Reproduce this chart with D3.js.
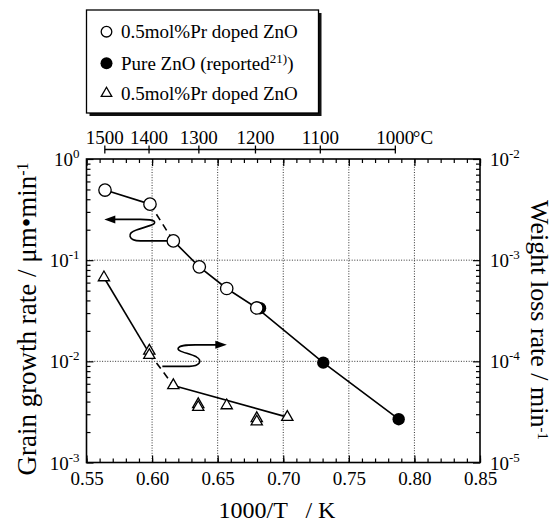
<!DOCTYPE html>
<html><head><meta charset="utf-8">
<script src="https://cdn.jsdelivr.net/npm/d3@7"></script>
<style>
body{margin:0;background:#fff}
svg{display:block}
text{font-family:"Liberation Serif","Times New Roman",serif;fill:#000}
</style>
</head><body>
<svg id="c" width="556" height="524"></svg>
<script>
// ---- data ----
const openX = [0.5641, 0.5984, 0.6162, 0.6360, 0.6569, 0.6798];
const openY = [0.493, 0.358, 0.155, 0.0859, 0.0525, 0.0337];
const pureX = [0.6823, 0.7305, 0.7880];
const pureY = [0.0335, 0.0097, 0.00268];
const triX = [0.5633, 0.5979, 0.5979, 0.6162, 0.6352, 0.6352, 0.6569, 0.6798, 0.6798, 0.7031];
const triY = [6.74e-4, 1.27e-4, 1.15e-4, 5.78e-5, 3.75e-5, 3.52e-5, 3.66e-5, 2.73e-5, 2.53e-5, 2.81e-5];
const triFitX = [0.5633, 0.5979, 0.6162, 0.7031];
const triFitY = [6.74e-4, 1.2e-4, 5.78e-5, 2.81e-5];
const xTicks = [0.55, 0.60, 0.65, 0.70, 0.75, 0.80, 0.85];
const xGrid = [0.60, 0.65, 0.70, 0.75, 0.80];
const leftTicks = [1e-3, 1e-2, 1e-1, 1];
const leftGrid = [1e-2, 1e-1];
const rightTicks = [1e-5, 1e-4, 1e-3, 1e-2];
const tempTicks = [1500, 1400, 1300, 1200, 1100, 1000];
const legendLabels = ["0.5mol%Pr doped ZnO", "Pure ZnO (reported", "0.5mol%Pr doped ZnO"];
const xTitle = "1000/T   / K";
const yTitleL = "Grain growth rate / \u03bcm\u2022min";
const yTitleR = "Weight loss rate / min";

// ---- layout ----
const svg = d3.select("#c");
const L = 86.5, R = 480, T = 159, B = 462.5;
const x = d3.scaleLinear([0.55, 0.85], [L, R]);
const yL = d3.scaleLog([1e-3, 1], [B, T]);
const yR = d3.scaleLog([1e-5, 1e-2], [B, T]);

// grid
const grid = svg.append("g").attr("stroke", "#333").attr("stroke-width", 1).attr("stroke-dasharray", "1,1.6");
grid.selectAll("line.v").data(xGrid).join("line").attr("class","v")
  .attr("x1", d => x(d)).attr("x2", d => x(d)).attr("y1", T).attr("y2", B);
grid.selectAll("line.h").data(leftGrid).join("line").attr("class","h")
  .attr("x1", L).attr("x2", R).attr("y1", d => yL(d)).attr("y2", d => yL(d));

// minor tick values
const xMinor = d3.range(55, 86).map(v => v / 100);
function logMinor(lo, hi) {
  const out = [];
  for (let e = lo; e < hi; e++) for (let m = 2; m <= 9; m++) out.push(m * Math.pow(10, e));
  return out;
}
const leftMinor = logMinor(-3, 0);
const rightMinor = logMinor(-5, -2);

function strip(g) { g.select(".domain").remove(); g.selectAll("line").attr("stroke", "#000").attr("stroke-width", 1.2); }

// bottom
svg.append("g").attr("transform", `translate(0,${B})`)
  .call(d3.axisBottom(x).tickValues(xMinor).tickSize(-4).tickFormat("")).call(strip);
svg.append("g").attr("transform", `translate(0,${B})`)
  .call(d3.axisBottom(x).tickValues(xTicks).tickSize(-7).tickPadding(9).tickFormat(d3.format(".2f")))
  .call(strip)
  .call(g => g.selectAll("text").attr("font-size", 19).attr("font-family", "Liberation Serif"));
// top
svg.append("g").attr("transform", `translate(0,${T})`)
  .call(d3.axisTop(x).tickValues(xMinor).tickSize(-4).tickFormat("")).call(strip);
svg.append("g").attr("transform", `translate(0,${T})`)
  .call(d3.axisTop(x).tickValues(xTicks).tickSize(-7).tickFormat("")).call(strip);

function expLabels(g, anchor) {
  g.selectAll("text").each(function (d) {
    const e = Math.round(Math.log10(d));
    const t = d3.select(this).text("10").attr("font-size", 19).attr("font-family", "Liberation Serif")
      .attr("dy", "0.35em").attr("text-anchor", anchor);
    t.append("tspan").attr("dy", -8).attr("font-size", 13).text(e);
  });
}
// left
svg.append("g").attr("transform", `translate(${L},0)`)
  .call(d3.axisLeft(yL).tickValues(leftMinor).tickSize(-4).tickFormat("")).call(strip);
svg.append("g").attr("transform", `translate(${L},0)`)
  .call(d3.axisLeft(yL).tickValues(leftTicks).tickSize(-7).tickPadding(7))
  .call(strip).call(g => expLabels(g, "end"));
// right
svg.append("g").attr("transform", `translate(${R},0)`)
  .call(d3.axisRight(yR).tickValues(rightMinor).tickSize(-4).tickFormat("")).call(strip);
svg.append("g").attr("transform", `translate(${R},0)`)
  .call(d3.axisRight(yR).tickValues(rightTicks).tickSize(-7).tickPadding(10))
  .call(strip).call(g => expLabels(g, "start"));

// frame
svg.append("rect").attr("x", L).attr("y", T).attr("width", R - L).attr("height", B - T)
  .attr("fill", "none").attr("stroke", "#000").attr("stroke-width", 1.6);

// temperature axis
const tx = t => x(1000 / (t + 273.15));
const ty = 149.5;
const tg = svg.append("g").attr("stroke", "#000").attr("stroke-width", 1.3);
tg.append("line").attr("x1", tx(1500)).attr("x2", tx(1000)).attr("y1", ty).attr("y2", ty);
tg.selectAll("line.t").data(tempTicks).join("line").attr("class", "t")
  .attr("x1", d => tx(d)).attr("x2", d => tx(d)).attr("y1", ty - 4).attr("y2", ty + 4);
svg.append("g").selectAll("text").data(tempTicks).join("text")
  .attr("x", d => tx(d)).attr("y", 143.5).attr("text-anchor", "middle").attr("font-size", 19)
  .text(d => d);
svg.append("text").attr("x", tx(1000) + 17.5).attr("y", 143.5).attr("font-size", 19).text("\u00b0C");

// lines
const lineL = d3.line().x(d => x(d[0])).y(d => yL(d[1]));
const lineR = d3.line().x(d => x(d[0])).y(d => yR(d[1]));
const oPts = openX.map((v, i) => [v, openY[i]]);
const pPts = pureX.map((v, i) => [v, pureY[i]]);
const tPts = triFitX.map((v, i) => [v, triFitY[i]]);
const lg = svg.append("g").attr("fill", "none").attr("stroke", "#000").attr("stroke-width", 1.6);
lg.append("path").attr("d", lineL(oPts.slice(0, 2)));
lg.append("path").attr("d", lineL(oPts.slice(1, 3))).attr("stroke-dasharray", "7,5");
lg.append("path").attr("d", lineL(oPts.slice(2).concat(pPts.slice(1))));
lg.append("path").attr("d", lineR(tPts.slice(0, 2)));
lg.append("path").attr("d", lineR(tPts.slice(1, 3))).attr("stroke-dasharray", "7,5");
lg.append("path").attr("d", lineR(tPts.slice(2)));

// annotation arrows (anchored at data points)
const ann = svg.append("g");
const a1x = x(openX[2]), a1y = yL(openY[2]);
ann.append("path").attr("transform", `translate(${a1x},${a1y})`)
  .attr("d", "M-6,0 L-33,0 C-45,0 -47,-8 -37,-11 C-25,-15 -17,-16 -19,-19.5 C-21,-21.5 -27,-21.5 -33,-21.5 L-60,-21.5")
  .attr("fill", "none").attr("stroke", "#000").attr("stroke-width", 1.6);
ann.append("path").attr("transform", `translate(${a1x},${a1y})`)
  .attr("d", "M-69,-21.5 L-58,-25.5 L-58,-17.5 Z").attr("fill", "#000");
const a2x = x(triX[1]), a2y = yR(triY[1]);
ann.append("path").attr("transform", `translate(${a2x},${a2y})`)
  .attr("d", "M13,15.5 L40,15.5 C50,15.5 54,10 47,6 C39,2 27,1 29,-3 C31,-6 37,-6 46,-6 L68,-6")
  .attr("fill", "none").attr("stroke", "#000").attr("stroke-width", 1.6);
ann.append("path").attr("transform", `translate(${a2x},${a2y})`)
  .attr("d", "M77.5,-6 L66,-10 L66,-2 Z").attr("fill", "#000");

// markers
const triSym = d3.symbol(d3.symbolTriangle).size(55);
svg.append("g").selectAll("circle").data(pPts).join("circle")
  .attr("cx", d => x(d[0])).attr("cy", d => yL(d[1])).attr("r", 6.2).attr("fill", "#000");
svg.append("g").selectAll("circle").data(oPts).join("circle")
  .attr("cx", d => x(d[0])).attr("cy", d => yL(d[1])).attr("r", 6.2)
  .attr("fill", "#fff").attr("stroke", "#000").attr("stroke-width", 1.3);
svg.append("g").selectAll("path").data(triX.map((v, i) => [v, triY[i]])).join("path")
  .attr("transform", d => `translate(${x(d[0])},${yR(d[1])})`).attr("d", triSym)
  .attr("fill", "#fff").attr("stroke", "#000").attr("stroke-width", 1.3);

// legend
const lgd = svg.append("g");
lgd.append("rect").attr("x", 89.5).attr("y", 13).attr("width", 232).attr("height", 103).attr("fill", "#111");
lgd.append("rect").attr("x", 86.5).attr("y", 10).attr("width", 232).attr("height", 103)
  .attr("fill", "#fff").attr("stroke", "#000").attr("stroke-width", 1.3);
const rows = [31.7, 63.3, 93.3];
lgd.append("circle").attr("cx", 106.5).attr("cy", rows[0]).attr("r", 5.3).attr("fill", "#fff").attr("stroke", "#000").attr("stroke-width", 1.3);
lgd.append("circle").attr("cx", 106.5).attr("cy", rows[1]).attr("r", 6).attr("fill", "#000");
lgd.append("path").attr("transform", `translate(106.5,${rows[2]})`).attr("d", d3.symbol(d3.symbolTriangle).size(48))
  .attr("fill", "#fff").attr("stroke", "#000").attr("stroke-width", 1.3);
legendLabels.forEach((s, i) => {
  const t = lgd.append("text").attr("x", 121).attr("y", rows[i] + 6.5).attr("font-size", 19).text(s);
  if (i === 1) {
    t.append("tspan").attr("dy", -7).attr("font-size", 13).text("21)");
    t.append("tspan").attr("dy", 7).text(")");
  }
});

// titles
svg.append("text").attr("x", 277).attr("y", 518).attr("text-anchor", "middle").attr("font-size", 24)
  .style("white-space", "pre").text(xTitle);
const tl = svg.append("text").attr("transform", "translate(36,319) rotate(-90)").attr("text-anchor", "middle")
  .attr("font-size", 27).text(yTitleL);
tl.append("tspan").attr("dy", -8).attr("font-size", 16).text("-1");
const tr = svg.append("text").attr("transform", "translate(531,320) rotate(90)").attr("text-anchor", "middle")
  .attr("font-size", 26).text(yTitleR);
tr.append("tspan").attr("dy", -7).attr("font-size", 15).text("-1");
</script>
</body></html>
